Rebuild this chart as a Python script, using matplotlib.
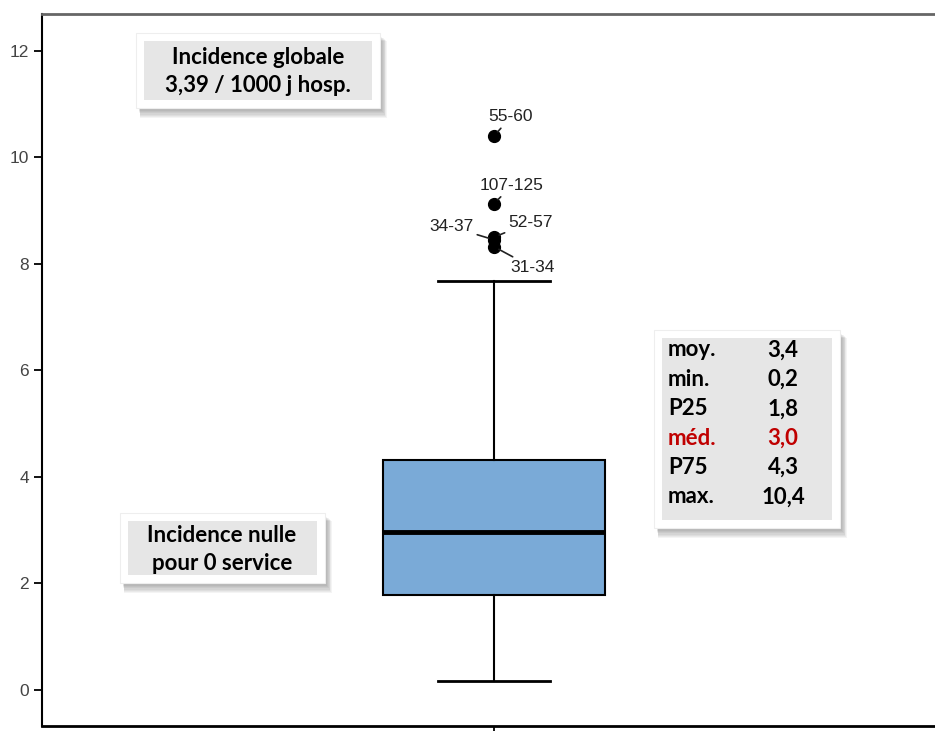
import matplotlib
matplotlib.use("Agg")
import matplotlib.pyplot as plt
from matplotlib.patches import Rectangle

# Boxplot summary (incidence / 1000 j hosp.)
whisker_low = 0.17
q1 = 1.78
median = 2.97
q3 = 4.32
whisker_high = 7.68
flier_values = [10.40, 9.13, 8.45, 8.50, 8.32]
flier_labels = ["55-60", "107-125", "34-37", "52-57", "31-34"]
# label offsets (pixels) relative to each outlier
flier_offsets = [(17, 19), (18, 18), (-43, 13), (37, 15), (39, -21)]

stat_names = ["moy.", "min.", "P25", "méd.", "P75", "max."]
stat_values = [3.4, 0.2, 1.8, 3.0, 4.3, 10.4]

yticks = [0, 2, 4, 6, 8, 10, 12]

W, H = 935, 731
DPI = 100
BOX_FONT = ["Lato", "DejaVu Sans"]
AXIS_FONT = ["Liberation Sans", "DejaVu Sans"]

fig = plt.figure(figsize=(W / DPI, H / DPI), dpi=DPI, facecolor="white")
ax = fig.add_axes([42 / W, 1 - 726 / H, 904 / W, (726 - 14) / H])

stats = [{
    "whislo": whisker_low, "q1": q1, "med": median, "q3": q3,
    "whishi": whisker_high, "fliers": flier_values,
}]
ax.bxp(
    stats, positions=[0], widths=0.493, capwidths=0.248, patch_artist=True,
    boxprops=dict(facecolor="#7aaad7", edgecolor="black", linewidth=1.5),
    medianprops=dict(color="black", linewidth=3.5),
    whiskerprops=dict(color="black", linewidth=1.5),
    capprops=dict(color="black", linewidth=2),
    flierprops=dict(marker="o", markerfacecolor="black", markeredgecolor="black",
                    markersize=8.5),
)

for val, lab, off in zip(flier_values, flier_labels, flier_offsets):
    ax.annotate(
        lab, xy=(0, val), xytext=off, textcoords="offset pixels",
        ha="center", va="center", fontsize=12.5, family=AXIS_FONT,
        color="#222222",
        arrowprops=dict(arrowstyle="-", color="#222222", lw=1.2,
                        shrinkA=1, shrinkB=4),
    )

ax.set_xlim(-1, 1)
ax.set_ylim(-0.68, 12.69)
ax.set_yticks(yticks)
ax.set_yticklabels([str(t) for t in yticks], family=AXIS_FONT, fontsize=12.5,
                   color="#444444")
ax.set_xticks([0])
ax.set_xticklabels([""])
ax.tick_params(axis="both", direction="out", length=6, width=1.3, color="black")
ax.spines["right"].set_visible(False)
ax.spines["top"].set_color("#666666")
ax.spines["top"].set_linewidth(2)
ax.spines["left"].set_linewidth(1.5)
ax.spines["bottom"].set_linewidth(2)


def px_rect(x0, y0, x1, y1, **kw):
    """Rectangle given in image pixels (top-left origin)."""
    r = Rectangle((x0 / W, 1 - y1 / H), (x1 - x0) / W, (y1 - y0) / H,
                  transform=fig.transFigure, **kw)
    fig.add_artist(r)
    return r


def note_box(x0, y0, x1, y1, pad=8):
    # soft shadow
    for i in range(8, 0, -1):
        px_rect(x0 + 2 + i * 0.3, y0 + 3 + i * 0.6, x1 + i * 0.9, y1 + i * 1.3,
                facecolor="black", edgecolor="none", alpha=0.045, zorder=5)
    px_rect(x0, y0, x1, y1, facecolor="white", edgecolor="#eeeeee",
            linewidth=0.8, zorder=6)
    px_rect(x0 + pad, y0 + pad, x1 - pad, y1 - pad, facecolor="#e6e6e6",
            edgecolor="none", zorder=7)


def ftext(x, y, s, **kw):
    kw.setdefault("family", BOX_FONT)
    kw.setdefault("fontweight", "bold")
    kw.setdefault("fontsize", 16)
    kw.setdefault("zorder", 8)
    fig.text(x / W, 1 - y / H, s, **kw)


# global incidence box
note_box(136, 33, 380, 108)
ftext(258, 57, "Incidence globale", ha="center", va="center")
ftext(258, 85, "3,39 / 1000 j hosp.", ha="center", va="center")

# zero-incidence box
note_box(120, 513, 325, 583)
ftext(222, 535, "Incidence nulle", ha="center", va="center")
ftext(222, 564, "pour 0 service", ha="center", va="center")

# summary stats box
note_box(654, 330, 840, 528)
row_y = 350
for name, val in zip(stat_names, stat_values):
    col = "#c00000" if name == "méd." else "black"
    ftext(668, row_y, name, ha="left", va="center", color=col)
    ftext(783, row_y, f"{val:.1f}".replace(".", ","), ha="center",
          va="center", color=col)
    row_y += 29.4

fig.savefig("out.png", dpi=DPI, facecolor="white")
